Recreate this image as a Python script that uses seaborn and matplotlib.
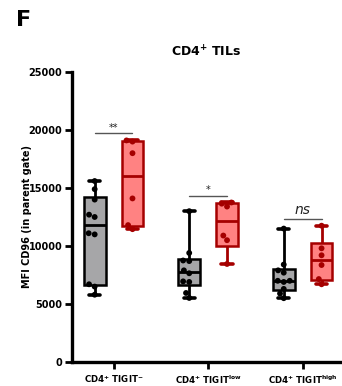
import matplotlib
matplotlib.use('Agg')
import numpy as np
import pandas as pd
import seaborn as sns
import matplotlib.pyplot as plt

# values (MFI CD96)
groups = ["CD4$^{+}$ TIGIT$^{-}$", "CD4$^{+}$ TIGIT$^{low}$", "CD4$^{+}$ TIGIT$^{high}$"]
ctrl_1 = [5800, 6500, 6700, 11000, 11100, 12500, 12700, 14000, 14900, 15600]
ctrl_2 = [5520, 5950, 6900, 6950, 7650, 7900, 8700, 8750, 9400, 13000]
ctrl_3 = [5500, 5900, 6300, 6900, 7000, 7000, 7700, 7900, 8400, 11500]
treat_1 = [11450, 11800, 14100, 18000, 19000, 19100]
treat_2 = [8450, 10500, 10900, 13400, 13650, 13750]
treat_3 = [6700, 7150, 8360, 9200, 9800, 11750]
sig_labels = ["**", "*", "ns"]

ctrl = [ctrl_1, ctrl_2, ctrl_3]
treat = [treat_1, treat_2, treat_3]

rows = []
for g, c, t in zip(groups, ctrl, treat):
    rows += [(g, "ctrl", v) for v in c]
    rows += [(g, "treat", v) for v in t]
df = pd.DataFrame(rows, columns=["group", "cond", "mfi"])

sns.set_theme(style="ticks")
plt.rcParams['font.family'] = ['DejaVu Sans']
plt.rcParams['font.weight'] = 'bold'
plt.rcParams['mathtext.default'] = 'regular'
for k in ['text.color', 'axes.labelcolor', 'xtick.color', 'ytick.color', 'axes.edgecolor']:
    plt.rcParams[k] = 'black'

fig = plt.figure(figsize=(3.42, 3.86), dpi=100)
ax = fig.add_axes([0.2105, 0.0622, 0.785, 0.7513])

fills = {"ctrl": "#a6a6a8", "treat": "#ff8282"}
edges = {"ctrl": "#000000", "treat": "#a50000"}

sns.swarmplot(data=df, x="group", y="mfi", hue="cond", order=groups,
              hue_order=["ctrl", "treat"], dodge=True, size=4.2,
              palette={"ctrl": "#000000", "treat": "#a50000"},
              legend=False, ax=ax, zorder=4)

# Prism style box: quartiles by (n+1)p, whiskers min to max
def box_stats(v):
    q1, med, q3 = np.percentile(v, [25, 50, 75], method='weibull')
    return dict(q1=q1, med=med, q3=q3, whislo=min(v), whishi=max(v), fliers=[])

for cond, sets, off in [("ctrl", ctrl, -0.2), ("treat", treat, 0.2)]:
    st = [box_stats(v) for v in sets]
    lp = dict(color=edges[cond], linewidth=2.0, solid_capstyle='butt')
    ax.bxp(st, positions=np.arange(3) + off, widths=0.23, patch_artist=True,
           manage_ticks=False, showfliers=False, capwidths=0.12,
           boxprops=dict(facecolor=fills[cond], edgecolor=edges[cond], linewidth=1.8),
           medianprops=lp, whiskerprops=lp, capprops=dict(color=edges[cond], linewidth=2.6),
           zorder=2)

# significance bars
for i, lab in enumerate(sig_labels):
    top = max(max(ctrl[i]), max(treat[i])) + 600
    ax.plot([i - 0.2, i + 0.2], [top, top], color="#555555", lw=1.0)
    if lab == "ns":
        ax.text(i, top + 150, lab, ha='center', va='bottom', fontsize=10,
                style='italic', fontweight='normal', color="#222222")
    else:
        ax.text(i, top + 50, lab, ha='center', va='bottom', fontsize=7,
                fontweight='normal', color="#222222")

ax.set_xlim(-0.44, 2.4)
ax.set_ylim(0, 25000)
ax.set_yticks(np.arange(0, 25001, 5000))
ax.set_xticks(range(3))
ax.set_xticklabels(groups, fontsize=6.2, fontweight='bold')
ax.tick_params(axis='y', labelsize=7, width=2.0, length=5, pad=2)
ax.tick_params(axis='x', width=2.0, length=5, pad=3)
for t in ax.get_yticklabels():
    t.set_fontweight('bold')
ax.set_xlabel("")
ax.set_ylabel("MFI CD96 (in parent gate)", fontsize=7, fontweight='bold')
ax.yaxis.set_label_coords(-0.15, 0.5)
for s in ["left", "bottom"]:
    ax.spines[s].set_linewidth(2.4)
sns.despine(ax=ax)
ax.set_title("CD4$^{+}$ TILs", fontsize=9, fontweight='bold', pad=11)

fig.text(0.048, 0.975, "F", fontsize=16, fontweight='bold', va='top', ha='left')

fig.savefig("out.png", dpi=100)
